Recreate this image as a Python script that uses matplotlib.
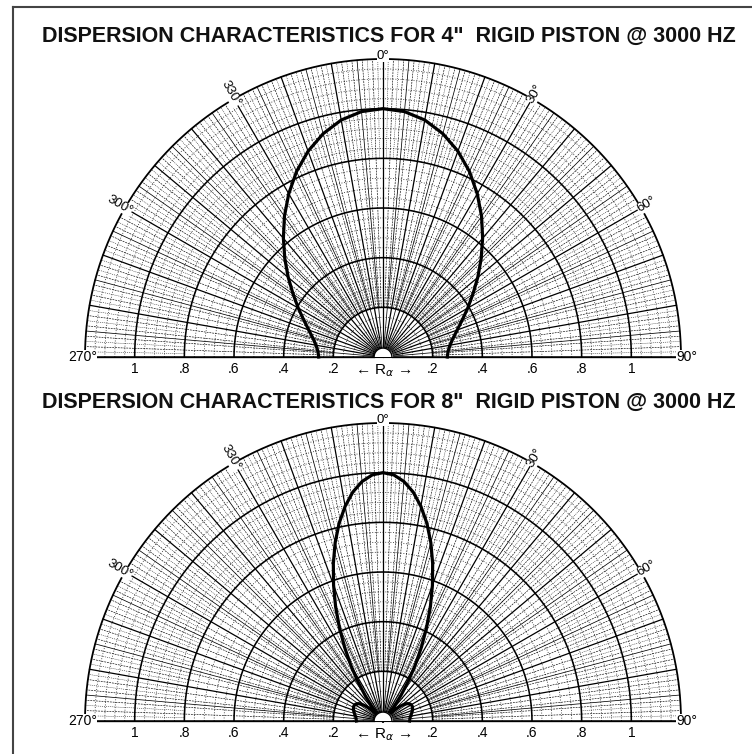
import numpy as np
import matplotlib
matplotlib.use("Agg")
import matplotlib.pyplot as plt
from matplotlib.lines import Line2D

# ---------------- data ----------------
titles = ['DISPERSION CHARACTERISTICS FOR 4"  RIGID PISTON @ 3000 HZ',
          'DISPERSION CHARACTERISTICS FOR 8"  RIGID PISTON @ 3000 HZ']

# 4" piston: relative response vs angle off axis (degrees), one side (symmetric)
angles_4in = [0, 5, 10, 15, 20, 25, 30, 35, 40, 45, 50, 55, 60, 65, 70, 75, 80, 85, 90]
resp_4in = [1.000, 0.992, 0.969, 0.931, 0.882, 0.824, 0.759, 0.692, 0.624, 0.559,
            0.498, 0.442, 0.394, 0.352, 0.318, 0.292, 0.274, 0.263, 0.259]

# 8" piston: main lobe, null near 41 deg, side lobe out to 90 deg
angles_8in = [0, 2.5, 5, 7.5, 10, 12.5, 15, 17.5, 20, 22.5, 25, 27.5, 30, 32.5, 35,
              37.5, 40, 41.4, 42.5, 45, 47.5, 50, 52.5, 55, 57.5, 60, 62.5, 65, 67.5,
              70, 72.5, 75, 77.5, 80, 82.5, 85, 87.5, 90]
resp_8in = [1.000, 0.992, 0.968, 0.930, 0.878, 0.816, 0.744, 0.665, 0.582, 0.499,
            0.415, 0.335, 0.259, 0.189, 0.126, 0.071, 0.022, 0.000, 0.018, 0.050,
            0.077, 0.097, 0.112, 0.122, 0.128, 0.131, 0.132, 0.131, 0.129, 0.126,
            0.123, 0.119, 0.116, 0.113, 0.110, 0.109, 0.108, 0.107]

radial_ticks = [0.2, 0.4, 0.6, 0.8, 1.0]
radial_tick_labels = ['.2', '.4', '.6', '.8', '1']
angle_label_values = [0, 30, 60, 300, 330]
r_max = 1.2

# ---------------- figure ----------------
W, H, DPI = 752, 754, 100
fig = plt.figure(figsize=(W / DPI, H / DPI), dpi=DPI)
fig.patch.set_facecolor("white")
FONT = ["Liberation Sans", "DejaVu Sans"]

CX, RPX = 383, 298  # centre x (px) and outer radius (px)


def polar_panel(base_from_top, ang, resp):
    # the half-disc is drawn at half the size of the axes box, centred in it
    cy = base_from_top - RPX / 2          # centre of the half-disc bbox (from top)
    bw, bh = 4 * RPX, 2 * RPX
    left = CX - bw / 2
    bottom = H - (cy + bh / 2)
    ax = fig.add_axes([left / W, bottom / H, bw / W, bh / H], projection="polar")
    ax.set_theta_zero_location("N")
    ax.set_theta_direction(-1)
    ax.set_thetamin(-90)
    ax.set_thetamax(90)
    ax.set_rlim(0, r_max)
    ax.grid(False)
    ax.set_xticks([])
    ax.set_yticks([])
    for s in ax.spines.values():
        s.set_visible(False)
    ax.patch.set_visible(False)

    th = np.radians(np.linspace(-90, 90, 721))
    hole = 0.036
    k = dict(color="black", clip_on=False)

    # minor circles
    for i in range(1, 30):
        r = round(i * 0.04, 3)
        if any(abs(r - t) < 1e-6 for t in radial_ticks):
            continue
        ax.plot(th, np.full_like(th, r), lw=0.55, ls=(0, (1.2, 2.2)), alpha=0.9, **k)
    # major circles
    for r in radial_ticks:
        ax.plot(th, np.full_like(th, r), lw=1.15, **k)
    ax.plot(th, np.full_like(th, r_max), lw=1.3, **k)

    # radial lines
    for d in range(-90, 91):
        t = np.radians(d)
        if d % 10 == 0:
            ax.plot([t, t], [hole, r_max], lw=0.9, **k)
        elif d % 5 == 0:
            ax.plot([t, t], [hole, r_max], lw=0.55, **k)
        elif d % 2 == 0:
            ax.plot([t, t], [0.2, r_max], lw=0.45, ls=(0, (3, 1.5)), **k)
        else:
            ax.plot([t, t], [0.8, r_max], lw=0.35, ls=(0, (2, 2)), **k)

    # baseline
    ax.plot([np.radians(-90)] * 2, [0, r_max], lw=1.1, **k)
    ax.plot([np.radians(90)] * 2, [0, r_max], lw=1.1, **k)

    # response curve (symmetric)
    a = np.array(ang, dtype=float)
    v = np.array(resp, dtype=float)
    full_a = np.concatenate([-a[::-1], a[1:]])
    full_v = np.concatenate([v[::-1], v[1:]])
    ax.plot(np.radians(full_a), full_v, color="black", lw=2.3,
            solid_joinstyle="round", zorder=6, clip_on=False)

    # centre hole
    ax.fill_between(th, 0, hole, color="white", zorder=7)
    ax.plot(th, np.full_like(th, hole), lw=1.0, color="black", zorder=8)

    # radial tick labels
    for r, lab in zip(radial_ticks, radial_tick_labels):
        for sgn in (-1, 1):
            ax.annotate(lab, xy=(np.radians(90 * sgn), r), xytext=(0, -12),
                        textcoords="offset pixels", ha="center", va="center",
                        fontsize=10, family=FONT, annotation_clip=False)
    ax.annotate("\u2190 R$_{\\alpha}$ \u2192", xy=(0, 0), xycoords="data",
                xytext=(0, -14), textcoords="offset pixels", ha="center",
                va="center", fontsize=11, family=FONT, annotation_clip=False)

    # angle labels
    for d in angle_label_values:
        rot = 0 if d == 0 else ((90 - d + 90) % 180) - 90
        rr = 1.212 if d == 0 else 1.225
        ax.text(np.radians(d if d < 180 else d - 360), rr, f"{d}\u00b0",
                rotation=rot, rotation_mode="anchor", ha="center", va="center",
                fontsize=9.5, family=FONT, zorder=9,
                bbox=dict(facecolor="white", edgecolor="none", pad=0.1),
                clip_on=False)
    ax.text(np.radians(-90), 1.21, "270\u00b0", ha="center", va="center",
            fontsize=10, family=FONT, zorder=9,
            bbox=dict(facecolor="white", edgecolor="none", pad=0.3), clip_on=False)
    ax.text(np.radians(90), 1.225, "90\u00b0", ha="center", va="center",
            fontsize=10, family=FONT, zorder=9,
            bbox=dict(facecolor="white", edgecolor="none", pad=0.3), clip_on=False)
    return ax


polar_panel(357, angles_4in, resp_4in)
polar_panel(721, angles_8in, resp_8in)

for t, y in zip(titles, (36, 402)):
    fig.text(389 / W, 1 - y / H, t, ha="center", va="center", fontsize=15.5,
             fontweight="bold", family=FONT, color="#111111", zorder=20)

# frame lines
fig.add_artist(Line2D([13 / W, 13 / W], [0, 1 - 7 / H], transform=fig.transFigure,
                      color="#444444", lw=1.5))
fig.add_artist(Line2D([13 / W, 1], [1 - 7 / H, 1 - 7 / H], transform=fig.transFigure,
                      color="#444444", lw=1.5))

fig.savefig("out.png", dpi=DPI, facecolor="white")
